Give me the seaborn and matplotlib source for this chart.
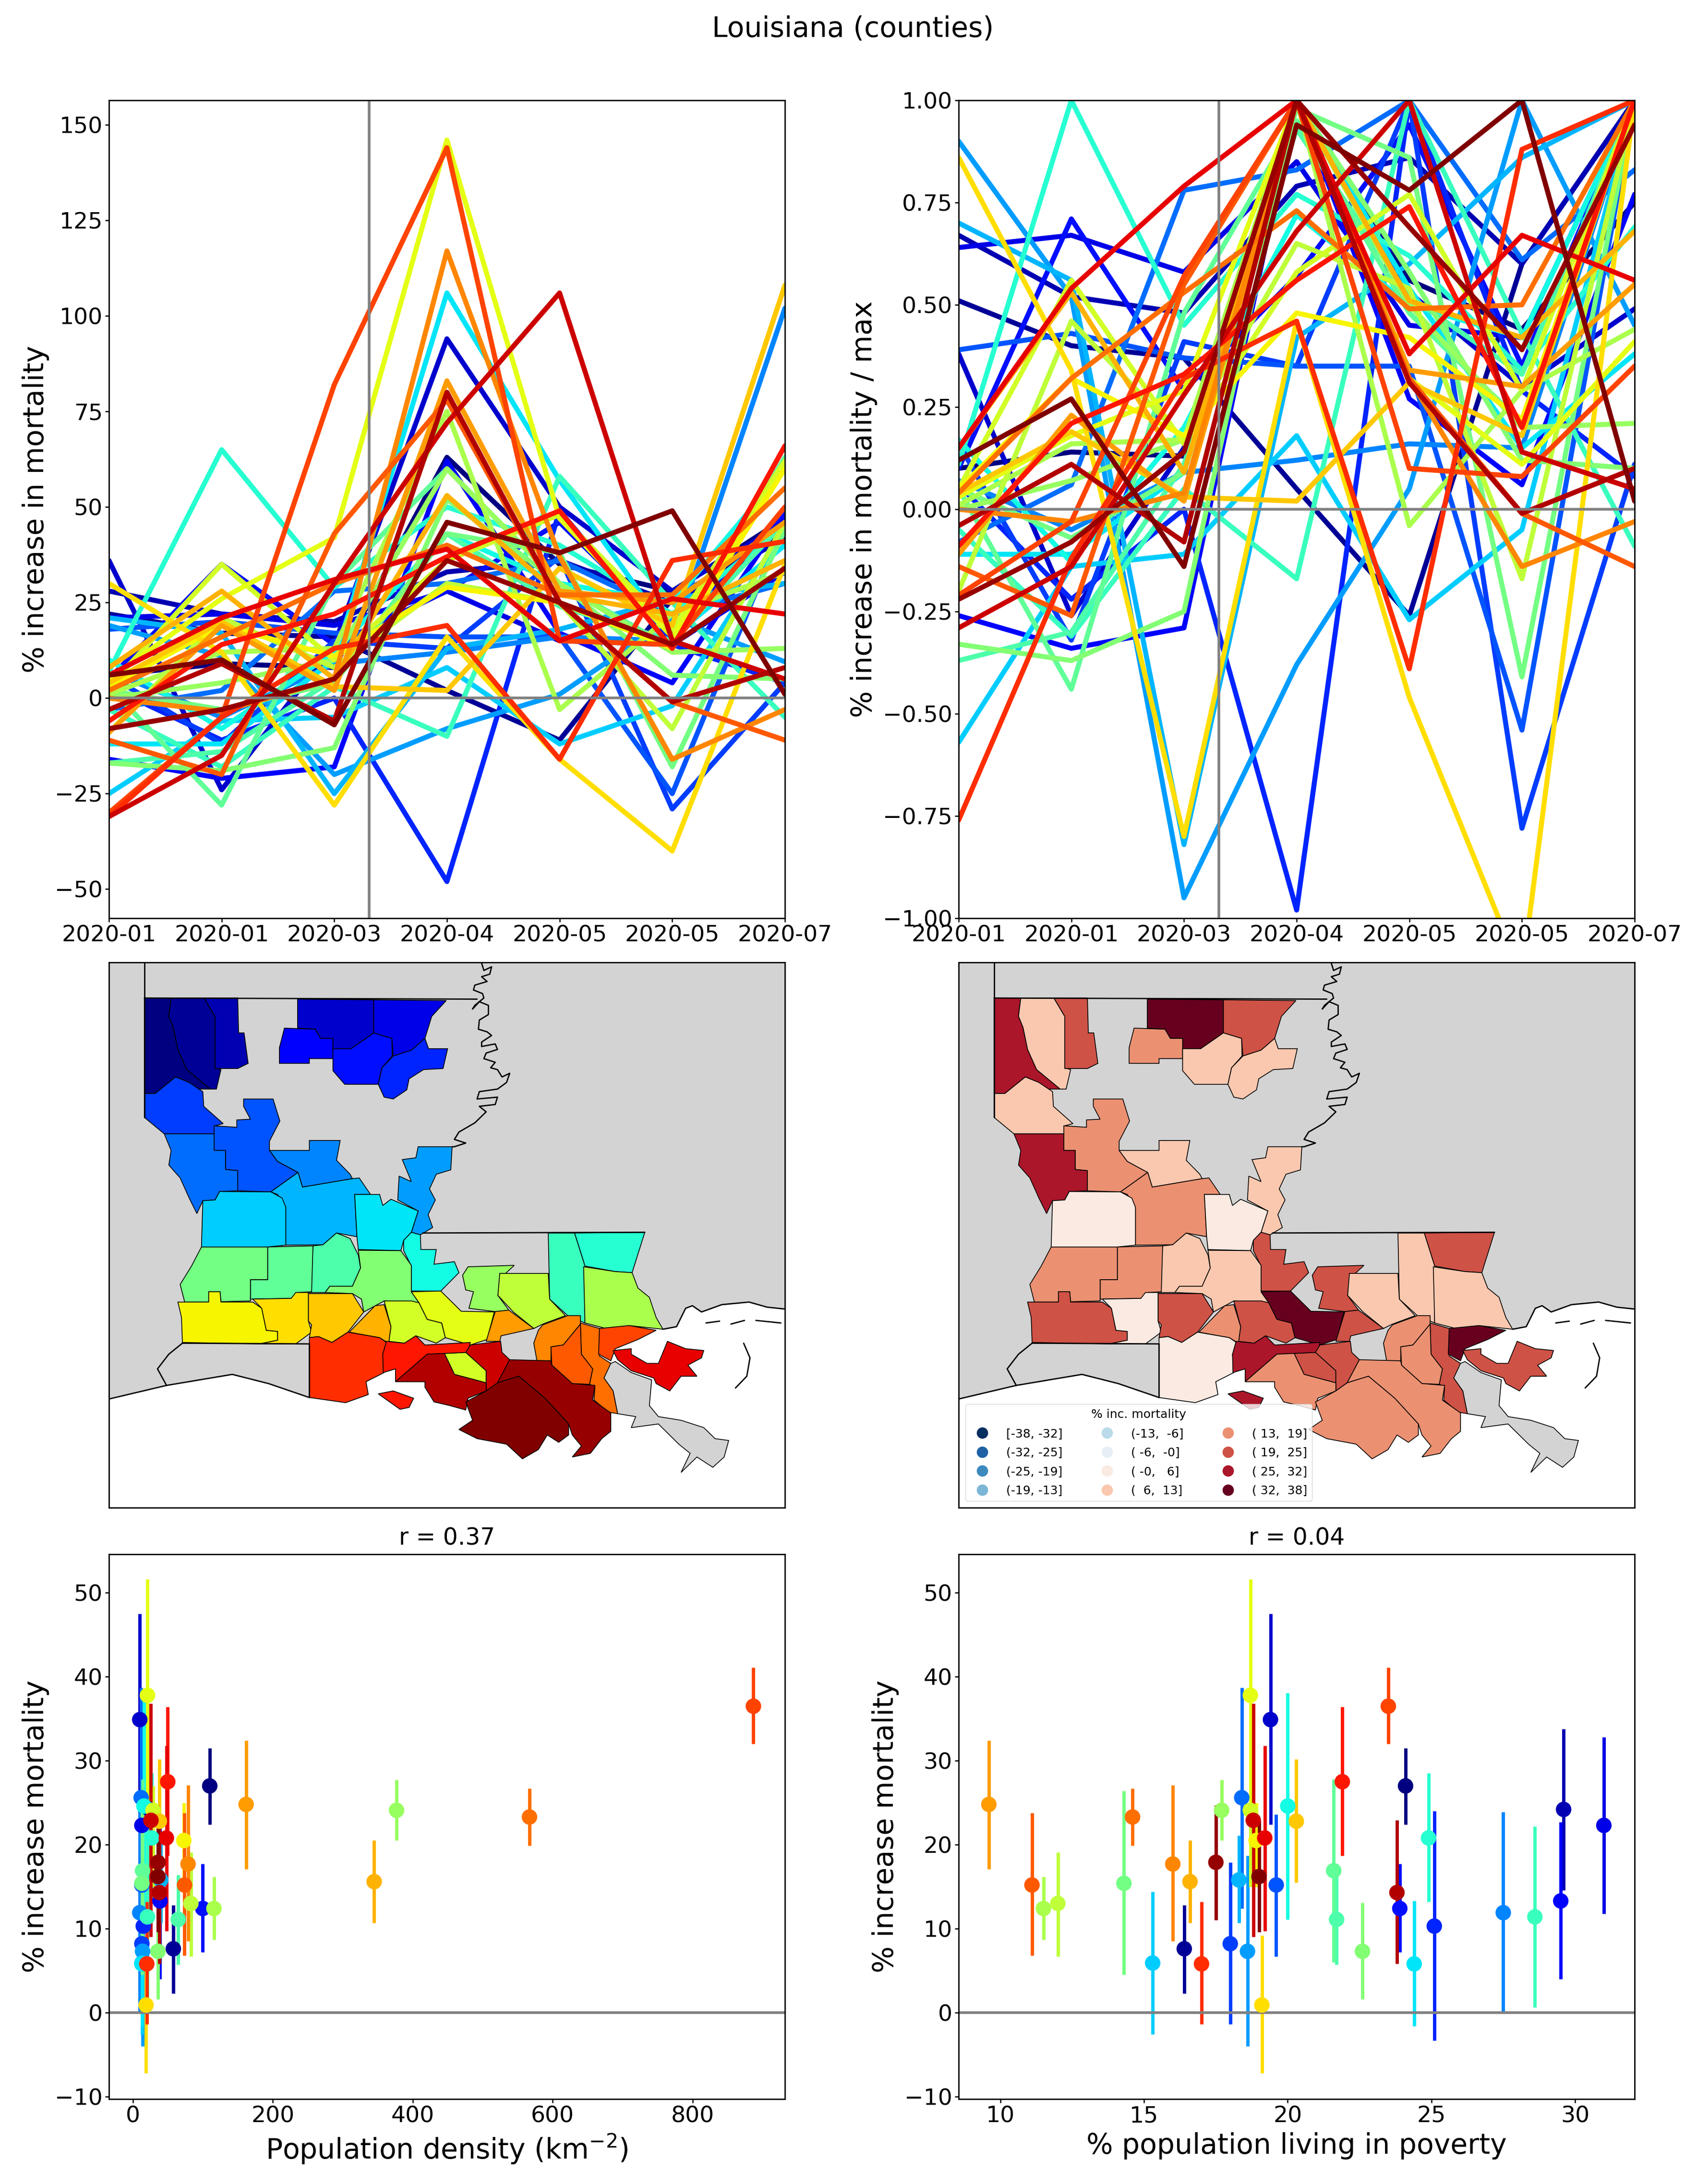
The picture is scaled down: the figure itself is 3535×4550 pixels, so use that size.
import numpy as np
import pandas as pd
import matplotlib
matplotlib.use("Agg")
import matplotlib.pyplot as plt
from matplotlib.lines import Line2D
import seaborn as sns

dates = ["2020-01", "2020-01", "2020-03", "2020-04", "2020-05", "2020-05", "2020-07"]
lockdown_pos = 2.31

# one row per parish, north to south, % increase in mortality
mortality = [
    [6, 9, 8, 63, 35, 28, 47],
    [22, 17, 16, 2, -11, 26, 43],
    [28, 22, 20, 33, 36, 25, 42],
    [36, -24, 14, 94, 50, 28, 46],
    [21, 22, 19, 28, 15, 14, 33],
    [-16, -21, -18, 62, 17, 4, 48],
    [5, 35, 14, 28, 46, 17, 49],
    [3, -11, 0, -48, 49, 14, 4],
    [6, -12, 15, 13, 37, -29, 4],
    [18, 20, 17, 16, 16, -25, 46],
    [-3, 2, 28, 30, 36, 22, 30],
    [7, -5, 9, 12, 16, 15, 102],
    [19, 11, -20, -8, 1, 21, 9.5],
    [21, 17, -25, 13, 18, 26, 30],
    [-25, -6, -5, 8, -12, -2, 44],
    [-12, -12, 10, 106, 57, 16, 40],
    [10, -8, 12, 43, 30, 25, 60],
    [7, 65, 29, 50, 40, 22, 45],
    [-3, -18, 3, -10, 58, 25, -5],
    [-17, -14, 5, 43, 24, 15, 46],
    [3, -28, 30, 60, 30, 13, 63],
    [2, -3, 4, 43, 38, -18, 44],
    [-17, -19, -13, 52, 30, 6, 5],
    [0, 4, 10, 60, 30, 12, 13],
    [1, 12, 13, 75, -3, 22, 33],
    [-9, 21, 8, 30, 25, -8, 46],
    [3, 35, 10, 36, 48, 18, 62],
    [5, 26, 42, 146, 47, 16, 60],
    [3, 19, 11, 29, 25, 13, 60],
    [30, 12, -28, 16, -16, -40, 35],
    [4, 20, 3, 2, 34, 19, 108],
    [8, 28, 5, 53, 27, 22, 36],
    [-9, 19, 2, 83, 28, 25, 46],
    [0, -3.5, 5, 117, 37, -16, -3],
    [2, 16, 30, 40, 27, 27, 55],
    [-11, -20, 43, 78, 25, -1, -11],
    [-30, -5, 82, 144, 15, 14, 50],
    [-31, -5, 13, 19, -16, 36, 41],
    [-6, 14, 22, 37, 49, 13, 66],
    [6, 21, 31, 39, 15, 26, 22],
    [-31, -15, 30, 72, 106, 15, 5],
    [-3, 9, -6, 80, 25, -1, 8],
    [-8, -3, 5, 36, 25, 14, 34],
    [6, 10, -7, 46, 38, 49, 1],
]

mortality_rel = [
    [.10, .14, .13, 1, .56, .44, .75],
    [.51, .40, .37, .05, -.26, .60, 1],
    [.67, .52, .48, .79, .86, .60, 1],
    [.38, -.26, .15, 1, .53, .30, .49],
    [.64, .67, .58, .85, .45, .42, 1],
    [-.26, -.34, -.29, 1, .27, .06, .77],
    [.10, .71, .29, .57, .94, .35, 1],
    [.06, -.22, 0, -.98, 1, .29, .08],
    [.16, -.32, .41, .35, 1, -.78, .11],
    [.39, .43, .37, .35, .35, -.54, 1],
    [-.08, .06, .78, .83, 1, .61, .83],
    [.07, -.05, .09, .12, .16, .15, 1],
    [.90, .52, -.95, -.38, .05, 1, .45],
    [.70, .56, -.82, .42, .60, .86, 1],
    [-.57, -.14, -.11, .18, -.27, -.05, 1],
    [-.11, -.11, .09, 1, .54, .15, .38],
    [.17, -.13, .20, .72, .50, .42, 1],
    [.11, 1, .45, .77, .62, .34, .69],
    [-.05, -.31, .05, -.17, 1, .43, -.09],
    [-.37, -.30, .11, .93, .52, .33, 1],
    [.05, -.44, .48, .95, .48, .21, 1],
    [.05, -.07, .09, .98, .86, -.41, 1],
    [-.33, -.37, -.25, 1, .58, .12, .10],
    [0, .07, .17, 1, .50, .20, .21],
    [.01, .16, .17, 1, -.04, .29, .44],
    [-.20, .46, .17, .65, .54, -.17, 1],
    [.05, .56, .16, .58, .77, .29, 1],
    [.03, .18, .29, 1, .32, .11, .41],
    [.05, .32, .18, .48, .42, .22, 1],
    [.86, .34, -.80, .46, -.46, -1.14, 1],
    [.04, .19, .03, .02, .31, .18, 1],
    [.15, .53, .09, 1, .51, .42, .68],
    [-.11, .23, .02, 1, .34, .30, .55],
    [0, -.03, .04, 1, .32, -.14, -.03],
    [.04, .32, .53, .73, .49, .50, 1],
    [-.14, -.26, .55, 1, .32, -.01, -.14],
    [-.21, -.03, .57, 1, .10, .08, .35],
    [-.76, -.12, .32, .46, -.39, .88, 1],
    [-.09, .21, .33, .56, .74, .20, 1],
    [.15, .54, .79, 1, .38, .67, .56],
    [-.29, -.14, .28, .68, 1, .14, .05],
    [-.04, .11, -.08, 1, .31, -.01, .10],
    [-.22, -.08, .14, 1, .69, .39, .94],
    [.12, .27, -.14, .94, .78, 1, .02],
]

# scatter panels, same parish order
inc_mean = [27.0, 7.6, 24.2, 34.9, 22.3, 13.3, 12.4, 10.3, 8.2, 15.2, 25.6, 11.9, 7.3, 15.8, 5.9, 5.8, 24.6, 20.8, 11.4, 11.1, 16.9, 15.4,
            7.3, 24.1, 12.4, 13.0, 24.1, 37.8, 20.5, 0.9, 22.8, 15.6, 24.8, 17.7, 23.3, 15.2, 36.5, 5.8, 27.5, 20.8, 22.9, 14.3, 17.9, 16.2]
inc_low = [22.4, 2.3, 14.6, 22.4, 11.8, 4.0, 7.2, -3.3, -1.4, 6.7, 12.4, 0.0, -4.0, 10.7, -2.6, -1.6, 11.1, 13.2, 0.6, 5.7, 6.0, 4.5,
           1.6, 20.5, 8.7, 6.7, 15.0, 23.9, 15.0, -7.2, 15.5, 10.7, 17.1, 8.5, 19.9, 6.8, 32.0, -1.4, 18.7, 9.7, 9.0, 5.8, 11.0, 9.6]
inc_high = [31.5, 12.8, 33.8, 47.5, 32.8, 22.7, 17.7, 24.0, 17.9, 23.6, 38.7, 23.9, 18.7, 21.1, 14.4, 13.3, 38.1, 28.5, 22.2, 16.4, 27.8, 26.4,
            13.1, 27.7, 16.2, 19.1, 27.0, 51.6, 25.0, 9.2, 30.2, 20.5, 32.4, 27.1, 26.7, 23.8, 41.1, 13.2, 36.4, 31.8, 36.8, 22.9, 24.7, 22.8]
density = [110, 58, 24, 10, 13, 39, 100, 15, 13, 13, 12, 10, 14, 40, 13, 13, 16, 27, 21, 65, 14, 13,
           36, 377, 116, 83, 29, 21, 73, 19, 38, 345, 162, 79, 567, 74, 887, 20, 50, 48, 26, 38, 36, 36]
poverty = [24.1, 16.4, 29.6, 19.4, 31.0, 29.5, 23.9, 25.1, 18.0, 19.6, 18.4, 27.5, 18.6, 18.3, 15.3, 24.4, 20.0, 24.9, 28.6, 21.7, 21.6, 14.3,
           22.6, 17.7, 11.5, 12.0, 18.7, 18.7, 18.9, 19.1, 20.3, 16.6, 9.6, 16.0, 14.6, 11.1, 23.5, 17.0, 21.9, 19.2, 18.8, 23.8, 17.5, 19.0]

bin_edges = [-38, -32, -25, -19, -13, -6, 0, 6, 13, 19, 25, 32, 38]
bin_labels = ["[-38, -32]", "(-32, -25]", "(-25, -19]", "(-19, -13]", "(-13,  -6]", "( -6,  -0]",
              "( -0,   6]", "(  6,  13]", "( 13,  19]", "( 19,  25]", "( 25,  32]", "( 32,  38]"]

# map outlines, (parish number, vertices) in traced map units
county_shapes = [
    (0, [(106,130),(165,130),(160,180),(170,210),(180,270),(200,325),(252,378),(220,378),(205,360),(175,345),(130,390),(106,390)]),
    (1, [(165,130),(238,130),(262,180),(262,320),(275,325),(265,378),(252,378),(200,325),(180,270),(170,210),(160,180)]),
    (2, [(238,130),(312,130),(314,225),(326,225),(335,308),(312,322),(262,322),(262,180)]),
    (3, [(444,133),(612,135),(612,225),(562,268),(522,268),(522,240),(495,240),(483,215),(444,212)]),
    (4, [(612,135),(772,137),(740,180),(725,240),(695,272),(655,288),(652,240),(612,225)]),
    (5, [(415,212),(483,215),(495,240),(522,240),(522,295),(470,295),(470,308),(404,308),(404,265)]),
    (6, [(612,225),(652,240),(653,288),(630,320),(622,365),(548,365),(522,328),(522,268),(562,268)]),
    (7, [(725,240),(733,268),(775,268),(765,322),(722,325),(690,350),(685,380),(655,405),(635,400),(622,365),(630,320),(655,288),(695,272)]),
    (8, [(106,390),(130,390),(175,345),(205,360),(235,385),(237,425),(280,472),(262,478),(262,500),(150,500),(106,455)]),
    (9, [(325,405),(390,405),(405,465),(382,520),(382,545),(400,575),(445,605),(385,658),(312,655),(312,600),(285,597),(285,545),(260,545),(260,478),(310,482),(310,462),(340,460),(325,425)]),
    (10, [(150,500),(260,500),(260,545),(285,545),(285,597),(312,600),(312,655),(272,657),(262,680),(235,682),(222,717),(205,675),(185,620),(160,585),(165,545)]),
    (11, [(382,545),(470,545),(470,518),(538,518),(530,572),(560,610),(565,622),(455,645),(445,605),(400,575)]),
    (12, [(710,535),(785,535),(782,598),(750,610),(735,650),(748,680),(732,720),(742,755),(715,775),(695,768),(710,710),(665,680),(668,615),(695,630),(675,570),(705,565)]),
    (13, [(445,605),(455,645),(565,622),(580,620),(605,665),(570,665),(575,780),(530,770),(500,802),(418,803),(418,700),(400,665),(385,658)]),
    (14, [(272,657),(385,658),(410,675),(418,700),(418,803),(378,808),(232,808),(235,682),(262,680)]),
    (15, [(570,665),(625,665),(632,695),(650,678),(710,710),(695,768),(678,790),(672,818),(578,815),(575,780)]),
    (16, [(678,790),(695,768),(715,775),(716,815),(750,815),(745,855),(790,848),(800,878),(760,928),(695,928),(695,860),(678,818)]),
    (17, [(1055,770),(1210,768),(1182,878),(1145,875),(1078,860)]),
    (18, [(997,770),(1055,770),(1078,860),(1078,1015),(1040,995),(1000,950)]),
    (19, [(478,805),(500,802),(530,770),(560,785),(578,830),(583,865),(565,915),(515,915),(505,932),(470,932)]),
    (20, [(378,808),(478,805),(475,930),(445,932),(430,948),(340,950),(340,897),(378,897)]),
    (21, [(232,808),(378,808),(378,897),(340,897),(340,955),(275,957),(273,930),(248,930),(248,958),(195,958),(185,910),(210,860)]),
    (22, [(578,817),(672,818),(695,858),(695,930),(712,960),(635,955),(590,985),(585,950),(565,935),(505,932),(515,915),(565,915),(583,865)]),
    (23, [(820,862),(922,858),(890,895),(886,940),(910,980),(880,984),(822,975),(832,930),(815,925),(808,885)]),
    (24, [(1075,862),(1145,875),(1182,878),(1195,920),(1220,945),(1235,1000),(1250,1032),(1175,1022),(1140,1035),(1078,1015)]),
    (25, [(890,880),(997,880),(1000,950),(1035,995),(985,1018),(965,1030),(920,985),(886,940)]),
    (26, [(635,955),(695,955),(712,960),(730,1005),(762,1015),(770,1055),(750,1070),(705,1050),(680,1070),(645,1065),(650,1025)]),
    (26, [(768,1098),(815,1095),(860,1145),(860,1178),(790,1155)]),
    (27, [(695,930),(760,928),(805,983),(878,985),(862,1060),(825,1075),(770,1055),(762,1015),(730,1005),(712,960)]),
    (28, [(180,958),(248,958),(248,930),(273,930),(275,958),(345,958),(365,975),(375,1035),(400,1038),(400,1062),(360,1072),(190,1068),(188,1000)]),
    (29, [(345,950),(430,948),(440,932),(468,932),(468,1010),(475,1040),(440,1072),(360,1072),(400,1062),(400,1038),(375,1035),(365,975)]),
    (30, [(468,935),(565,935),(590,985),(555,1040),(520,1068),(490,1052),(470,1055),(475,1020),(468,1010)]),
    (31, [(615,968),(635,965),(650,1025),(645,1070),(625,1055),(558,1040)]),
    (32, [(880,984),(910,980),(965,1030),(893,1050),(890,1065),(860,1065)]),
    (33, [(985,1020),(1040,995),(1068,995),(1068,1018),(1030,1075),(1003,1080),(1003,1118),(972,1118),(965,1070),(975,1035)]),
    (34, [(1068,1015),(1110,1030),(1110,1105),(1135,1125),(1120,1165),(1140,1200),(1150,1262),(1130,1258),(1098,1225),(1100,1188),(1088,1182),(1095,1140),(1070,1100)]),
    (35, [(1068,1018),(1070,1100),(1095,1140),(1088,1182),(1050,1180),(1005,1130),(1003,1080),(1030,1075)]),
    (36, [(1110,1030),(1175,1022),(1235,1035),(1195,1060),(1145,1085),(1135,1118),(1108,1100)]),
    (37, [(470,1055),(490,1052),(520,1068),(555,1040),(625,1055),(645,1072),(632,1100),(635,1150),(595,1175),(600,1210),(550,1232),(470,1218)]),
    (38, [(640,1065),(680,1070),(705,1050),(725,1075),(825,1068),(820,1095),(730,1100),(660,1175),(660,1140),(633,1150),(632,1100)]),
    (38, [(622,1208),(655,1200),(700,1220),(690,1245),(670,1250)]),
    (39, [(1140,1090),(1180,1085),(1180,1100),(1215,1125),(1240,1125),(1260,1065),(1300,1085),(1340,1090),(1335,1110),(1305,1130),(1325,1160),(1290,1160),(1265,1200),(1235,1180),(1230,1165),(1180,1145),(1150,1115)]),
    (40, [(825,1075),(892,1065),(895,1095),(912,1115),(885,1178),(860,1200),(860,1145),(815,1095)]),
    (41, [(730,1100),(768,1098),(790,1155),(860,1178),(860,1200),(820,1220),(815,1252),(780,1240),(745,1230),(725,1190),(725,1175),(660,1175)]),
    (42, [(912,1115),(1003,1118),(1005,1130),(1050,1180),(1100,1185),(1095,1225),(1135,1260),(1135,1310),(1115,1330),(1090,1370),(1050,1380),(1070,1350),(1050,1320),(1042,1290),(990,1220),(932,1160),(885,1178)]),
    (43, [(885,1178),(932,1160),(990,1220),(1042,1290),(1042,1320),(1020,1340),(995,1320),(975,1360),(940,1385),(905,1345),(840,1330),(800,1305),(830,1280),(815,1230),(860,1200)]),
]
land_shape = [(28,33),(1519,33),(1519,977),(1480,972),(1440,958),(1380,965),(1335,985),(1315,968),(1300,975),(1280,1025),(1250,1032),
              (1130,1020),(1000,1122),(905,1118),(880,1078),(470,1072),(470,1218),(380,1180),(300,1155),(155,1185),(28,1222)]
delta_shape = [(1125,1130),(1145,1120),(1180,1150),(1225,1170),(1220,1240),(1240,1270),(1290,1280),(1340,1300),(1365,1330),(1395,1335),
               (1385,1380),(1360,1408),(1325,1380),(1290,1422),(1310,1370),(1285,1345),(1240,1290),(1180,1300),(1190,1270),(1150,1262),(1140,1200),(1120,1165)]
river_line = [(850,35),(855,55),(872,45),(868,65),(850,72),(862,85),(835,95),(832,108),(852,118),(855,130),(835,150),(830,160),(845,140),
              (865,150),(865,175),(845,190),(843,215),(862,222),(872,232),(850,250),(850,262),(880,255),(885,270),(860,280),(855,295),
              (880,305),(870,320),(885,325),(895,345),(912,335),(905,360),(885,378),(845,385),(840,405),(885,400),(880,420),(845,425),
              (860,440),(835,470),(800,495),(790,515),(815,525),(790,535),(785,535)]
border_lines = [
    [(106,33),(106,455)],
    [(106,130),(840,133)],
    [(720,770),(1210,768)],
    [(190,1070),(470,1072),(470,1218),(380,1180),(300,1155),(155,1185),(28,1222)],
    [(190,1070),(160,1100),(135,1140),(155,1185)],
    [(1519,977),(1480,972),(1440,958),(1380,965),(1335,985),(1315,968),(1300,975),(1280,1025),(1250,1032)],
    river_line,
    [(1345,1015),(1375,1010)],
    [(1400,1018),(1430,1008)],
    [(1455,1008),(1510,1015)],
    [(1428,1070),(1442,1110),(1435,1160),(1410,1192)],
]

sns.set_style("ticks")
plt.rcParams["font.family"] = "DejaVu Sans"
plt.rcParams["axes.edgecolor"] = "black"
plt.rcParams["axes.linewidth"] = 2
plt.rcParams["xtick.major.size"] = 6
plt.rcParams["ytick.major.size"] = 6
plt.rcParams["xtick.major.width"] = 1.8
plt.rcParams["ytick.major.width"] = 1.8
plt.rcParams["xtick.color"] = "black"
plt.rcParams["ytick.color"] = "black"
plt.rcParams["text.color"] = "black"
plt.rcParams["axes.labelcolor"] = "black"

W, H = 3535, 4550
fig = plt.figure(figsize=(W / 100, H / 100), dpi=100)


def panel(x0, x1, y0, y1):
    return fig.add_axes([x0 / W, 1 - y1 / H, (x1 - x0) / W, (y1 - y0) / H])


n = len(mortality)
jet = plt.get_cmap("jet")
county_colors = [jet(i / (n - 1)) for i in range(n)]
LEFT = (227, 1635)
RIGHT = (1997, 3405)

fig.text(1777 / W, 1 - 60 / H, "Louisiana (counties)", ha="center", va="center", fontsize=42)


def line_panel(ax, rows, ylabel, ylim):
    df = pd.DataFrame(rows).reset_index().melt(id_vars="index", var_name="when", value_name="value")
    sns.lineplot(data=df, x="when", y="value", hue="index", palette=county_colors, hue_order=list(range(n)),
                 errorbar=None, estimator=None, linewidth=7.5, legend=False, ax=ax)
    ax.axvline(lockdown_pos, color="grey", lw=4)
    ax.axhline(0, color="grey", lw=4)
    ax.set_xlim(0, 6)
    ax.set_ylim(*ylim)
    ax.set_xticks(range(7))
    ax.set_xticklabels(dates)
    ax.tick_params(labelsize=34)
    ax.set_xlabel("")
    ax.set_ylabel(ylabel, fontsize=42.5, labelpad=8)


ax1 = panel(*LEFT, 209, 1913)
line_panel(ax1, mortality, "% increase in mortality", (-57.6, 156.4))
ax1.set_yticks(range(-50, 151, 25))

ax2 = panel(*RIGHT, 209, 1913)
line_panel(ax2, mortality_rel, "% increase in mortality / max", (-1, 1))
ax2.set_yticks(np.arange(-1, 1.01, 0.25))
ax2.set_yticklabels(["\u22121.00", "\u22120.75", "\u22120.50", "\u22120.25", "0.00", "0.25", "0.50", "0.75", "1.00"])


def map_panel(ax, face_colors):
    ax.set_facecolor("white")
    ax.fill(*zip(*land_shape), color="lightgrey", lw=0)
    ax.fill(*zip(*delta_shape), facecolor="lightgrey", edgecolor="black", lw=1.2)
    for county, pts in county_shapes:
        ax.fill(*zip(*pts), facecolor=face_colors[county], edgecolor="black", lw=1.2)
    for pts in border_lines:
        ax.plot(*zip(*pts), color="black", lw=2)
    ax.set_xlim(28, 1519)
    ax.set_ylim(1518, 33)
    ax.set_xticks([])
    ax.set_yticks([])


rd_bu = [plt.get_cmap("RdBu_r")(v) for v in np.linspace(0, 1, 12)]
bin_index = np.clip(np.digitize(inc_mean, bin_edges, right=True) - 1, 0, 11)

ax3 = panel(*LEFT, 2005, 3141)
map_panel(ax3, county_colors)

ax4 = panel(*RIGHT, 2005, 3141)
map_panel(ax4, [rd_bu[b] for b in bin_index])
handles = [Line2D([], [], ls="", marker="o", ms=16, color=c, label=l) for c, l in zip(rd_bu, bin_labels)]
ax4.legend(handles=handles, title="% inc. mortality", ncol=3, loc="lower left", bbox_to_anchor=(0.01, 0.012),
           borderaxespad=0, title_fontsize=18, frameon=True, columnspacing=2.7, handletextpad=1.0,
           labelspacing=0.62, prop={"family": "DejaVu Sans", "size": 18})


def scatter_panel(ax, xs, xlim, xticks, xlabel, title):
    ax.vlines(xs, inc_low, inc_high, colors=county_colors, lw=5)
    ax.axhline(0, color="grey", lw=4)
    df = pd.DataFrame({"x": xs, "y": inc_mean, "county": range(n)})
    sns.scatterplot(data=df, x="x", y="y", hue="county", palette=county_colors, hue_order=list(range(n)),
                    s=540, linewidth=0, legend=False, zorder=3, ax=ax)
    ax.set_xlim(*xlim)
    ax.set_ylim(-10.3, 54.6)
    ax.set_xticks(xticks)
    ax.set_yticks(range(-10, 51, 10))
    ax.tick_params(labelsize=34)
    ax.set_xlabel(xlabel, fontsize=42, labelpad=8)
    ax.set_ylabel("% increase mortality", fontsize=42.5, labelpad=8)
    ax.set_title(title, fontsize=35, pad=14)


ax5 = panel(*LEFT, 3238, 4373)
scatter_panel(ax5, density, (-34, 932), [0, 200, 400, 600, 800], "Population density (km$^{-2}$)", "r = 0.37")

ax6 = panel(*RIGHT, 3238, 4373)
scatter_panel(ax6, poverty, (8.55, 32.07), [10, 15, 20, 25, 30], "% population living in poverty", "r = 0.04")

fig.savefig("out.png", dpi=100)
